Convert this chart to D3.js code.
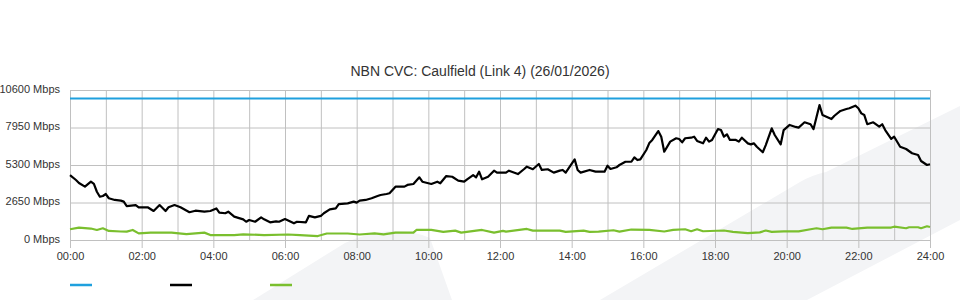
<!DOCTYPE html>
<html>
<head>
<meta charset="utf-8">
<script src="https://cdn.jsdelivr.net/npm/d3@7"></script>
<style>
  body { margin: 0; background: #fff; }
  svg { display: block; font-family: "Liberation Sans", Arial, sans-serif; }
  .grid line { stroke: #c0c0c0; stroke-width: 1; }
  .grid path { display: none; }
  .x-axis path { display: none; }
  .x-axis line { stroke: #c0c0c0; }
  .x-axis text, .y-label { fill: #333; font-size: 11px; }
  .title { fill: #333; font-size: 14px; }
</style>
</head>
<body>
<div class="container"></div>
<script>
// tick labels
const yTicks = [0, 2650, 5300, 7950, 10600];
const xTickLabels = ['00:00', '02:00', '04:00', '06:00', '08:00', '10:00', '12:00',
  '14:00', '16:00', '18:00', '20:00', '22:00', '24:00'];

// capacity (blue)
const capacityMinutes = [0, 1440];
const capacityMbps = [10000, 10000];

// traffic (black) - minutes since midnight / Mbps
const trafficMinutes = [0, 10, 15, 25, 35, 40, 45, 50, 55, 60,
  65, 75, 85, 90, 95, 110, 115, 130, 140, 150,
  160, 165, 175, 185, 200, 210, 225, 235, 245, 250,
  260, 265, 275, 290, 295, 300, 310, 320, 325, 335,
  345, 350, 360, 375, 380, 395, 400, 410, 420, 425,
  435, 445, 450, 465, 475, 480, 485, 495, 505, 515,
  520, 530, 535, 545, 560, 565, 575, 585, 590, 605,
  615, 620, 630, 640, 650, 660, 665, 675, 680, 685,
  690, 700, 710, 715, 730, 735, 750, 760, 765, 775,
  785, 790, 800, 810, 820, 825, 830, 845, 850, 855,
  870, 880, 895, 900, 905, 915, 920, 930, 940, 945,
  950, 955, 965, 970, 975, 985, 990, 995, 1005, 1015,
  1020, 1025, 1030, 1040, 1045, 1050, 1060, 1065, 1070, 1075,
  1085, 1090, 1095, 1100, 1105, 1115, 1120, 1125, 1135, 1140,
  1145, 1150, 1160, 1165, 1175, 1180, 1190, 1195, 1205, 1215,
  1220, 1230, 1240, 1245, 1255, 1260, 1275, 1280, 1290, 1300,
  1305, 1315, 1320, 1325, 1330, 1335, 1345, 1355, 1360, 1365,
  1375, 1380, 1390, 1400, 1410, 1420, 1425, 1435, 1440];
const trafficMbps = [4590, 4240, 4030, 3770, 4120, 3960, 3410, 3060, 3110, 3250,
  2950, 2830, 2780, 2710, 2400, 2470, 2310, 2310, 2050, 2470,
  2050, 2310, 2470, 2310, 1960, 2070, 2000, 2050, 2230, 1930,
  1890, 2000, 1650, 1460, 1290, 1410, 1290, 1600, 1460, 1250,
  1320, 1290, 1480, 1180, 1290, 1250, 1700, 1600, 1700, 1890,
  2170, 2240, 2540, 2590, 2710, 2640, 2780, 2830, 2950, 3110,
  3180, 3250, 3300, 3770, 3770, 3890, 3960, 4430, 4120, 3960,
  4120, 4010, 4520, 4470, 4190, 4120, 4290, 4590, 4430, 4830,
  4290, 4470, 4900, 4760, 4760, 4900, 4660, 5000, 5180, 5000,
  5370, 4950, 5000, 4760, 4900, 4950, 4760, 5700, 4950, 4760,
  4950, 4830, 4830, 5250, 5020, 5140, 5300, 5530, 5530, 5840,
  5650, 5700, 6360, 6850, 7070, 7700, 7300, 6240, 6950, 7190,
  7140, 6900, 7190, 7230, 7300, 7000, 6830, 7230, 6950, 7070,
  7840, 7770, 7300, 7470, 7070, 7070, 6950, 7230, 6830, 6760,
  6830, 6590, 6200, 6710, 7890, 7420, 6760, 7770, 8130, 7990,
  7940, 8320, 8180, 7840, 9540, 8830, 8550, 8780, 9120, 9260,
  9310, 9490, 9310, 8950, 8830, 8180, 8320, 8010, 8180, 7770,
  7140, 7300, 6590, 6430, 6130, 6010, 5580, 5300, 5350];

// green series
const greenMinutes = [0, 15, 35, 45, 55, 65, 85, 95, 105, 115,
  135, 150, 170, 195, 225, 235, 275, 290, 325, 365,
  385, 415, 430, 465, 485, 510, 525, 545, 575, 580,
  605, 625, 645, 655, 680, 690, 710, 725, 730, 765,
  775, 820, 830, 860, 870, 885, 910, 920, 940, 970,
  995, 1010, 1030, 1040, 1050, 1060, 1095, 1110, 1135, 1155,
  1165, 1175, 1195, 1220, 1240, 1250, 1260, 1275, 1300, 1310,
  1335, 1375, 1380, 1400, 1405, 1420, 1425, 1435, 1440];
const greenMbps = [760, 880, 810, 710, 830, 640, 600, 590, 710, 470,
  520, 520, 520, 420, 520, 350, 350, 400, 350, 390,
  350, 280, 460, 460, 390, 470, 400, 520, 520, 710,
  710, 570, 660, 520, 660, 710, 520, 640, 590, 780,
  660, 660, 570, 660, 570, 590, 690, 590, 740, 710,
  600, 710, 760, 620, 760, 620, 670, 570, 490, 540,
  670, 570, 610, 610, 760, 830, 760, 880, 870, 780,
  880, 880, 940, 830, 900, 900, 830, 970, 920];

const seriesColors = ['#1fa0de', '#000000', '#7abf2e'];

const width = 960;
const height = 300;
const padding = { top: 90, right: 30, bottom: 60, left: 70 };

const svg = d3.select('.container')
  .append('svg')
  .attr('width', width)
  .attr('height', height);

// faint background watermark
svg.append('path')
  .attr('d', 'M253,300 L345,243 Q392,222 430,238 L452,300 Z')
  .attr('fill', '#f3f4f6');
svg.append('path')
  .attr('d', 'M600,300 L800,182 Q812,175 826,172 L960,106 L960,220 L807,300 Z')
  .attr('fill', '#f3f4f6');

const xScale = d3.scaleLinear()
  .domain([0, 1440])
  .range([padding.left, width - padding.right]);

const yScale = d3.scaleLinear()
  .domain([0, 10600])
  .range([height - padding.bottom, padding.top]);

const plotW = width - padding.left - padding.right;
const plotH = height - padding.top - padding.bottom;

// grid
svg.append('g')
  .attr('class', 'grid')
  .attr('transform', `translate(0, ${height - padding.bottom})`)
  .call(d3.axisBottom(xScale)
    .tickValues(d3.range(0, 1441, 60))
    .tickSize(-plotH)
    .tickFormat(''));

svg.append('g')
  .attr('class', 'grid')
  .attr('transform', `translate(${padding.left}, 0)`)
  .call(d3.axisLeft(yScale)
    .tickValues(yTicks)
    .tickSize(-plotW)
    .tickFormat(''));

// x axis labels
svg.append('g')
  .attr('class', 'x-axis')
  .attr('transform', `translate(0, ${height - padding.bottom})`)
  .call(d3.axisBottom(xScale)
    .tickValues(d3.range(0, 1441, 120))
    .tickSize(8)
    .tickPadding(4)
    .tickFormat((d, i) => xTickLabels[i]))
  .selectAll('text')
  .attr('font-family', null)
  .attr('font-size', null);

// y labels
svg.append('g')
  .selectAll('text')
  .data(yTicks)
  .enter()
  .append('text')
  .attr('class', 'y-label')
  .attr('x', padding.left - 10)
  .attr('y', d => yScale(d) + 2.5)
  .attr('text-anchor', 'end')
  .text(d => `${d} Mbps`);

// title
svg.append('text')
  .attr('class', 'title')
  .attr('x', 480)
  .attr('y', 76)
  .attr('text-anchor', 'middle')
  .text('NBN CVC: Caulfield (Link 4) (26/01/2026)');

// series
const line = d3.line()
  .x(d => xScale(d[0]))
  .y(d => yScale(d[1]));

const series = [
  d3.zip(capacityMinutes, capacityMbps),
  d3.zip(trafficMinutes, trafficMbps),
  d3.zip(greenMinutes, greenMbps)
];

[2, 1, 0].forEach(i => {
  svg.append('path')
    .datum(series[i])
    .attr('fill', 'none')
    .attr('stroke', seriesColors[i])
    .attr('stroke-width', 2.2)
    .attr('stroke-linejoin', 'round')
    .attr('d', line);
});

// legend (swatches only)
const legend = svg.append('g');
legend.selectAll('line')
  .data(seriesColors)
  .enter()
  .append('line')
  .attr('x1', (d, i) => padding.left + i * 100)
  .attr('x2', (d, i) => padding.left + i * 100 + 22)
  .attr('y1', 285)
  .attr('y2', 285)
  .attr('stroke', d => d)
  .attr('stroke-width', 2.5);
</script>
</body>
</html>
